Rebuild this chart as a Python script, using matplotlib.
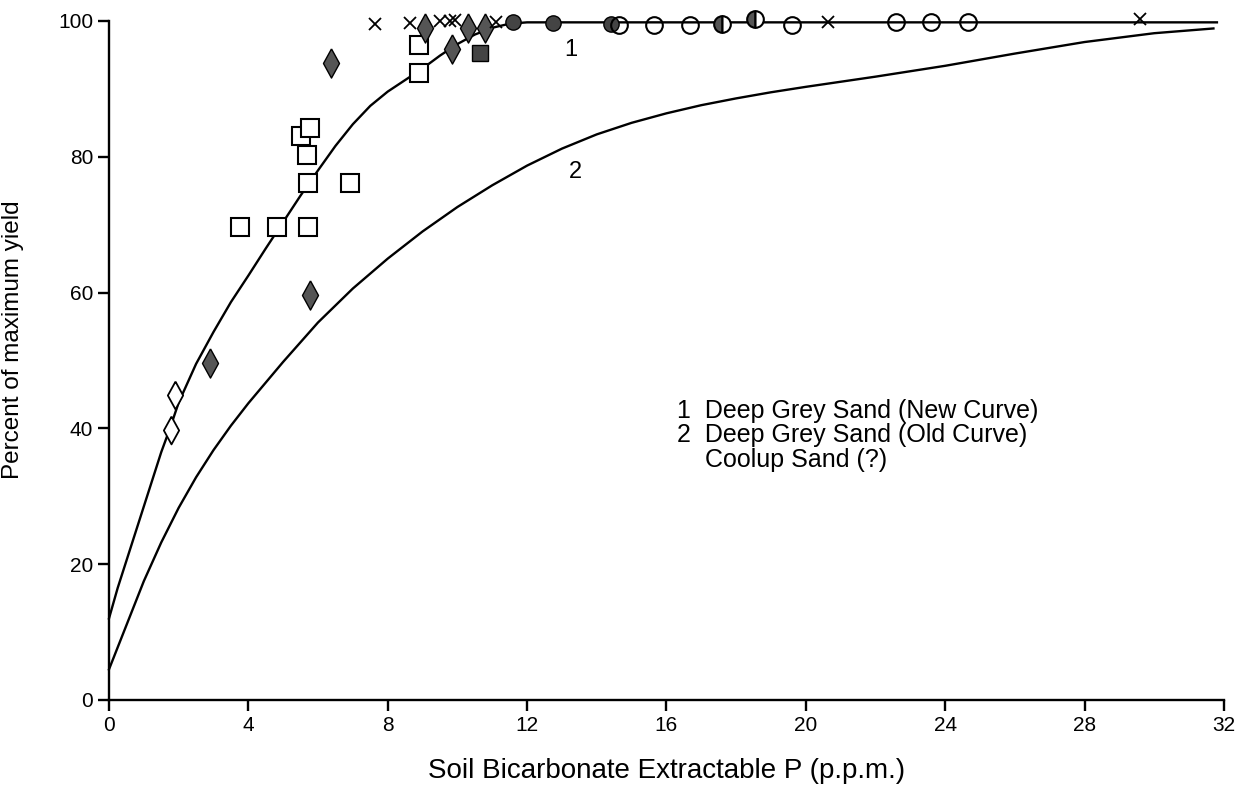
import numpy as np
import matplotlib
matplotlib.use("Agg")
import matplotlib.pyplot as plt

plt.rcParams["font.family"] = ["Liberation Sans", "DejaVu Sans"]

# curve 1 (new curve)
c1_x = [0.0, 0.25, 0.5, 0.75, 1.0, 1.25, 1.5, 1.75, 2.0, 2.5, 3.0, 3.5, 4.0, 4.5, 5.0,
        5.5, 6.0, 6.5, 7.0, 7.5, 8.0, 8.5, 9.0, 9.5, 10.0, 10.5, 11.0, 11.5, 12.0,
        14.0, 18.0, 22.0, 26.0, 30.0, 31.8]
c1_y = [12.0, 16.5, 20.5, 24.5, 28.5, 32.5, 36.5, 40.0, 43.8, 49.5, 54.2, 58.6, 62.5,
        66.5, 70.4, 74.3, 78.0, 81.6, 84.8, 87.5, 89.6, 91.3, 93.0, 94.9, 96.6, 98.0,
        99.0, 99.6, 99.8, 99.8, 99.8, 99.8, 99.8, 99.8, 99.8]

# curve 2 (old curve)
c2_x = [0.0, 0.5, 1.0, 1.5, 2.0, 2.5, 3.0, 3.5, 4.0, 5.0, 6.0, 7.0, 8.0, 9.0, 10.0,
        11.0, 12.0, 13.0, 14.0, 15.0, 16.0, 17.0, 18.0, 19.0, 20.0, 22.0, 24.0, 26.0,
        28.0, 30.0, 31.7]
c2_y = [4.5, 11.0, 17.5, 23.2, 28.3, 32.8, 36.8, 40.4, 43.7, 49.8, 55.6, 60.6, 65.0,
        69.0, 72.6, 75.8, 78.7, 81.2, 83.3, 85.0, 86.4, 87.6, 88.6, 89.5, 90.3, 91.8,
        93.4, 95.2, 96.9, 98.2, 98.9]

open_sq_x = [3.76, 4.82, 5.71, 5.71, 6.93, 5.69, 5.51, 5.76, 8.91, 8.91]
open_sq_y = [69.7, 69.7, 69.7, 76.1, 76.1, 80.3, 83.0, 84.2, 92.4, 96.4]

open_dia_x = [1.89, 1.79]
open_dia_y = [44.9, 39.8]

fill_dia_x = [2.91, 5.77, 6.38, 9.08, 9.84, 10.31, 10.79]
fill_dia_y = [49.6, 59.7, 93.8, 99.0, 95.9, 99.0, 99.0]

fill_sq_x = [10.65]
fill_sq_y = [95.3]

cross_x = [7.64, 8.65, 9.5, 9.79, 9.93, 11.12, 20.65, 29.6]
cross_y = [99.6, 99.7, 100.0, 100.0, 100.1, 99.9, 99.9, 100.3]

fill_circ_x = [11.6, 12.74, 14.41]
fill_circ_y = [99.8, 99.75, 99.6]

open_circ_x = [14.65, 15.65, 16.69, 19.6, 22.6, 23.6, 24.65]
open_circ_y = [99.4, 99.4, 99.4, 99.4, 99.8, 99.8, 99.8]

half_circ_x = [17.6, 18.55]
half_circ_y = [99.6, 100.3]

# tall narrow diamond like the hand-drawn one
diamond = [(0, 1), (0.55, 0), (0, -1), (-0.55, 0), (0, 1)]

fig = plt.figure(figsize=(12.37, 7.92), dpi=100)
ax = fig.add_axes([0.0881, 0.1162, 0.9013, 0.8573])

ax.plot(c1_x, c1_y, color="black", lw=1.7, clip_on=False)
ax.plot(c2_x, c2_y, color="black", lw=1.7, clip_on=False)

kw = dict(ls="none", clip_on=False)
ax.plot(open_sq_x, open_sq_y, "s", ms=13, mfc="white", mec="black", mew=1.5, **kw)
ax.plot(open_dia_x, open_dia_y, marker=diamond, ms=20, mfc="white", mec="black", mew=1.3, **kw)
ax.plot(fill_dia_x, fill_dia_y, marker=diamond, ms=21, mfc="#555555", mec="black", mew=1.0, **kw)
ax.plot(fill_sq_x, fill_sq_y, "s", ms=11, mfc="#444444", mec="black", mew=1.0, **kw)
ax.plot(cross_x, cross_y, "x", ms=8, color="black", mew=1.3, **kw)
ax.plot(fill_circ_x, fill_circ_y, "o", ms=11, mfc="#444444", mec="black", mew=1.0, **kw)
ax.plot(open_circ_x, open_circ_y, "o", ms=12, mfc="none", mec="black", mew=1.5, **kw)
ax.plot(half_circ_x, half_circ_y, "o", ms=12, fillstyle="left", mfc="#555555",
        mfcalt="white", mec="black", mew=1.5, **kw)

ax.text(13.25, 95.7, "1", fontsize=17, va="center", ha="center")
ax.text(13.4, 77.8, "2", fontsize=17, va="center", ha="center")

ax.text(16.3, 44.4, "1  Deep Grey Sand (New Curve)\n2  Deep Grey Sand (Old Curve)\n    Coolup Sand (?)",
        fontsize=18, va="top", ha="left", linespacing=1.05)

ax.set_xlim(0, 32)
ax.set_ylim(0, 100)
ax.set_xticks(np.arange(0, 33, 4))
ax.set_yticks(np.arange(0, 101, 20))
ax.spines["top"].set_visible(False)
ax.spines["right"].set_visible(False)
ax.spines["left"].set_linewidth(1.7)
ax.spines["bottom"].set_linewidth(1.7)
ax.tick_params(direction="out", length=8, width=1.7, labelsize=15)

ax.set_xlabel("Soil Bicarbonate Extractable P (p.p.m.)", fontsize=20)
ax.xaxis.set_label_coords(0.5, -0.086)
ax.set_ylabel("Percent of maximum yield", fontsize=17.5)
ax.yaxis.set_label_coords(-0.076, 0.53)

fig.savefig("out.png", dpi=100)
